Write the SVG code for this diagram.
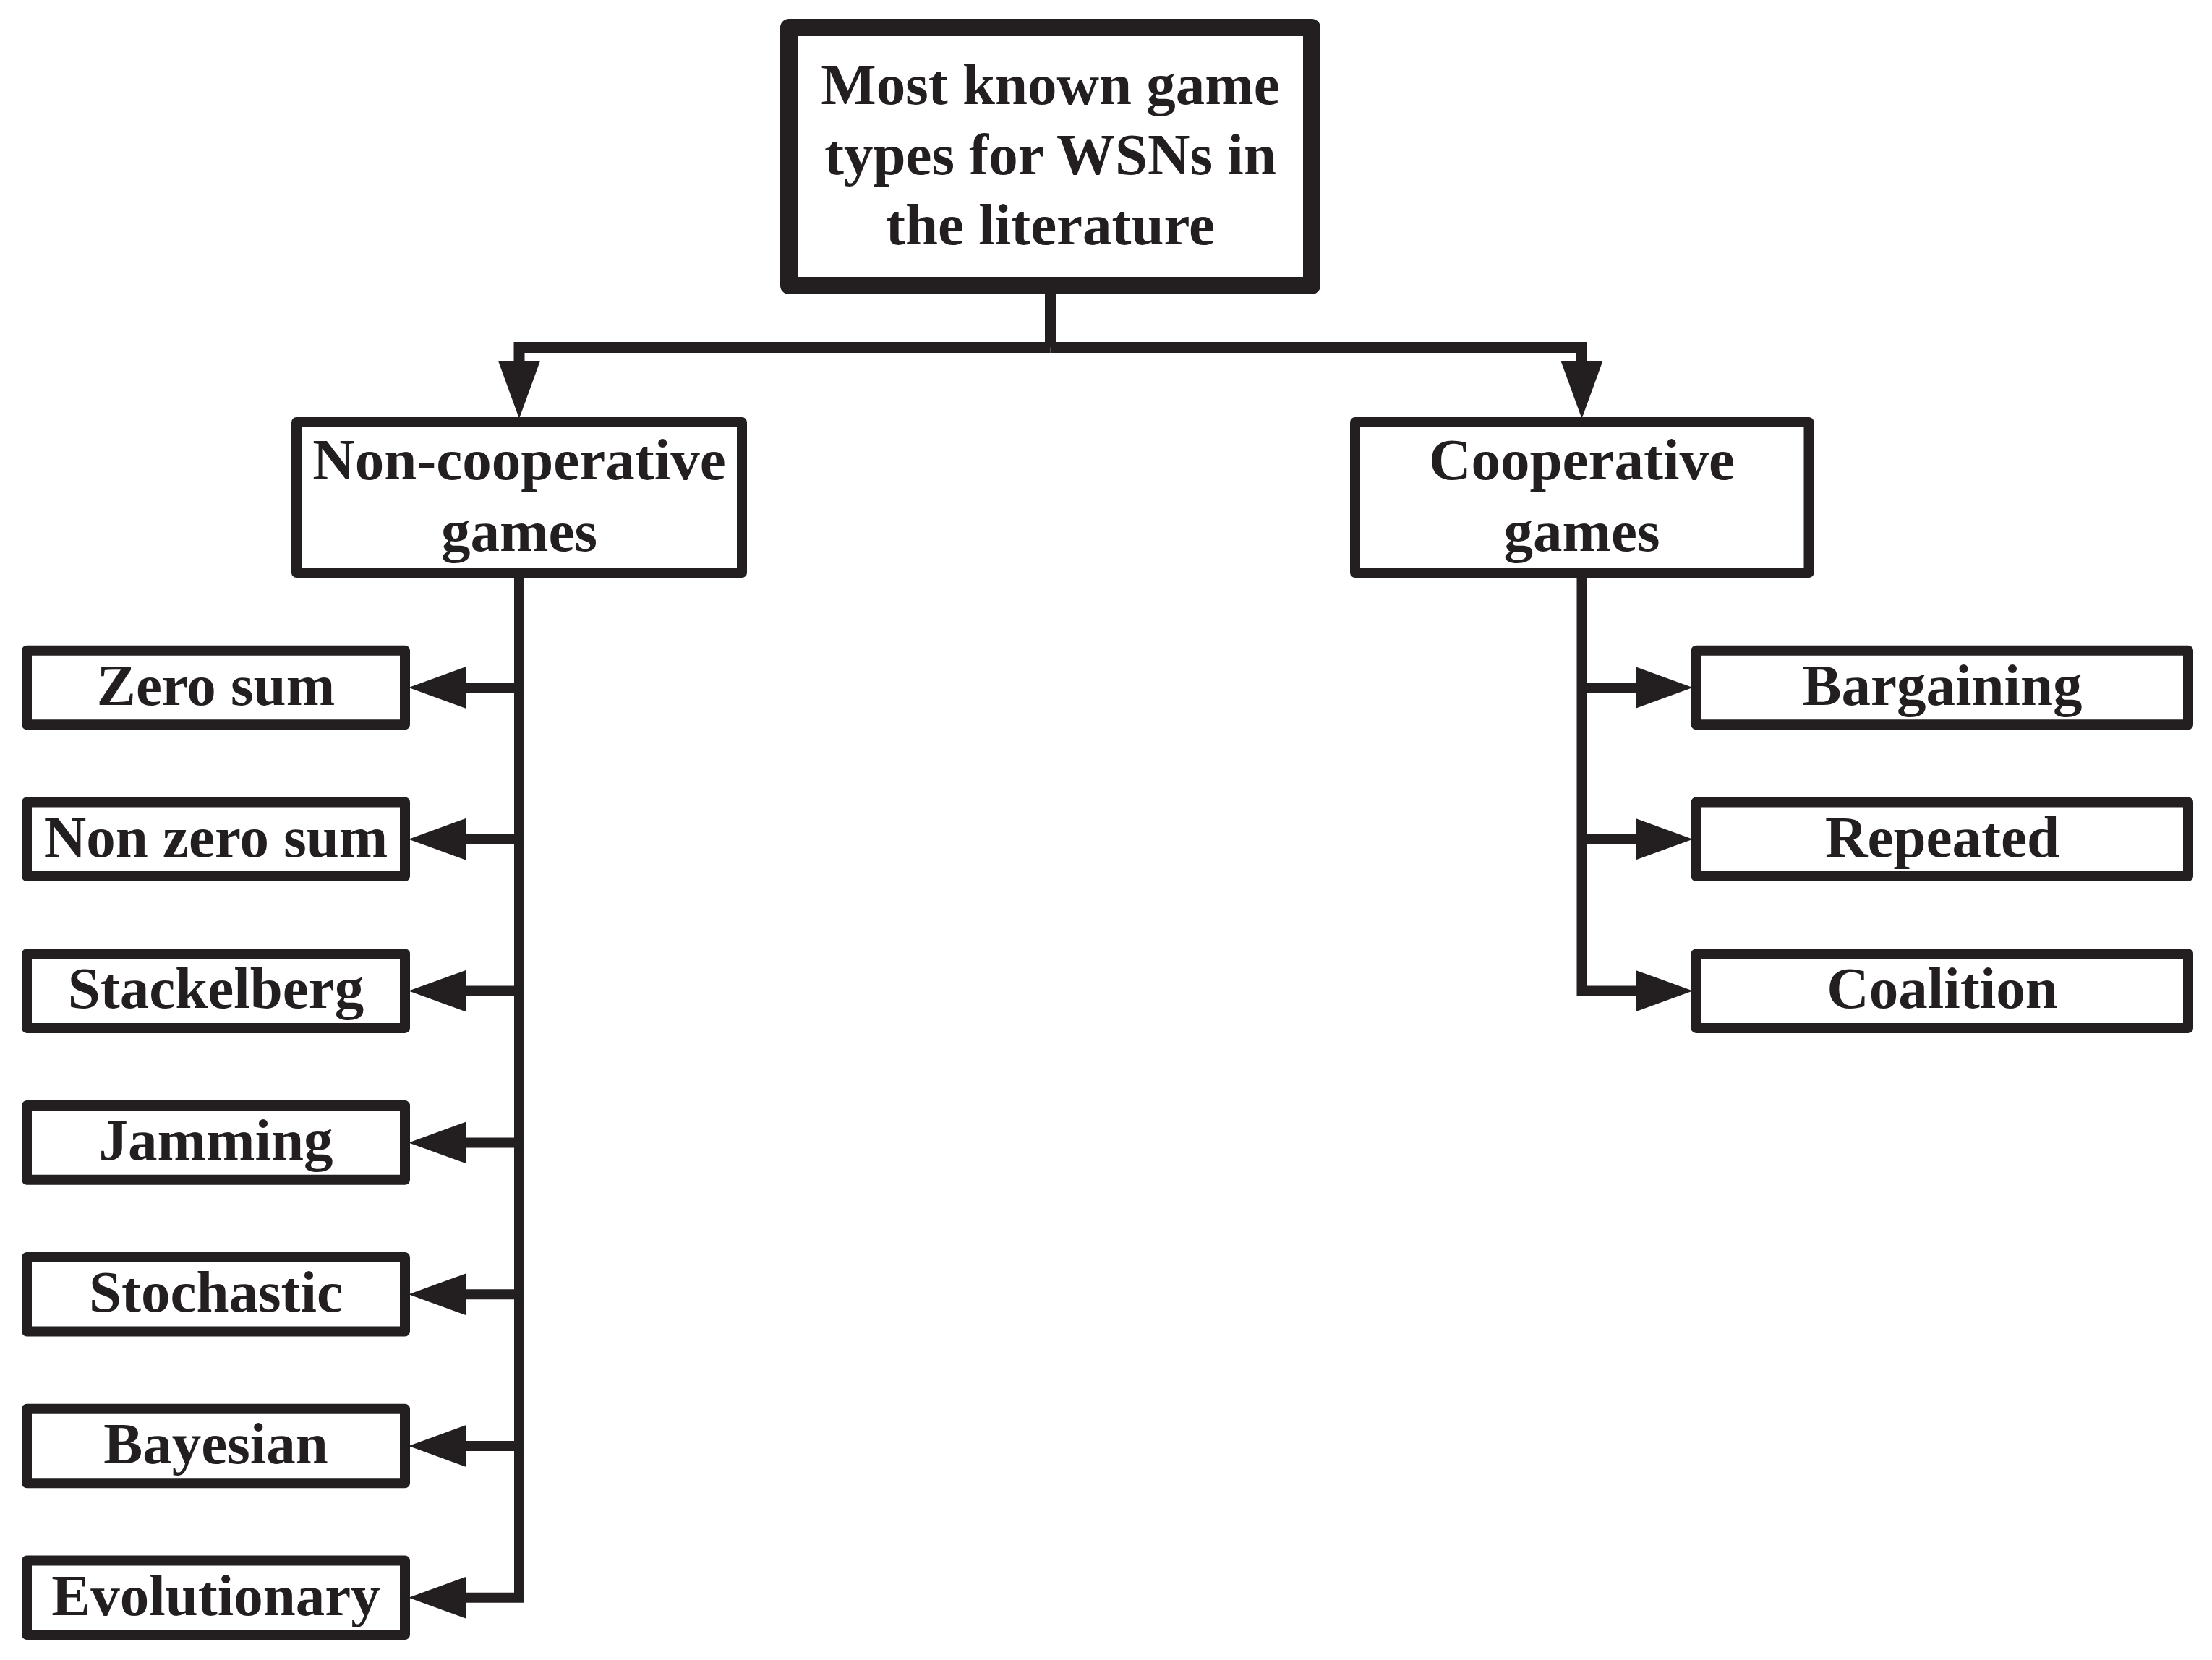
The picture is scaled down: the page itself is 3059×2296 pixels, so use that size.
<svg xmlns="http://www.w3.org/2000/svg" width="3059" height="2296" viewBox="0 0 3059 2296">
<style>
.box{fill:#fff;stroke:#231f20;stroke-width:14;stroke-linejoin:round}
.top{stroke-width:24}
.lbl{font-family:"Liberation Serif","Times New Roman",serif;font-weight:bold;font-size:81px;fill:#231f20;text-anchor:middle}
.con{fill:none;stroke:#231f20;stroke-width:14;stroke-linejoin:miter}
</style>
<defs>
<marker id="arr" markerUnits="userSpaceOnUse" markerWidth="80" markerHeight="60" viewBox="0 -29 78 58" refX="0" refY="0" orient="auto" overflow="visible">
<path d="M0,-28 L77,0 L0,28 Z" fill="#231f20"/>
</marker>
</defs>
<rect width="3059" height="2296" fill="#fff"/>
<g id="connectors">
<path class="con" d="M1452.5,407 V480.5" style="stroke-width:15"/>
<path class="con" d="M1452.5,480.5 H718 V500" style="stroke-width:15" marker-end="url(#arr)"/>
<path class="con" d="M1452.5,480.5 H2187.5 V500" style="stroke-width:15" marker-end="url(#arr)"/>
<path class="con" d="M718,799 V2209.8 H644" marker-end="url(#arr)"/>
<path class="con" d="M718,951 H644" marker-end="url(#arr)"/>
<path class="con" d="M718,1160.8 H644" marker-end="url(#arr)"/>
<path class="con" d="M718,1370.6 H644" marker-end="url(#arr)"/>
<path class="con" d="M718,1580.4 H644" marker-end="url(#arr)"/>
<path class="con" d="M718,1790.2 H644" marker-end="url(#arr)"/>
<path class="con" d="M718,2000 H644" marker-end="url(#arr)"/>
<path class="con" d="M2187.5,799 V1370.6 H2262" marker-end="url(#arr)"/>
<path class="con" d="M2187.5,951 H2262" marker-end="url(#arr)"/>
<path class="con" d="M2187.5,1160.8 H2262" marker-end="url(#arr)"/>
</g>
<g id="root">
<rect class="box top" x="1091" y="38" width="723" height="357"/>
<text class="lbl" x="1452.5" y="144">Most known game</text>
<text class="lbl" x="1452.5" y="241">types for WSNs in</text>
<text class="lbl" x="1452.5" y="338">the literature</text>
</g>
<g id="noncoop">
<rect class="box" x="410" y="584" width="616" height="208"/>
<text class="lbl" x="718" y="663">Non-cooperative</text>
<text class="lbl" x="718" y="762">games</text>
</g>
<g id="coop">
<rect class="box" x="1874" y="584" width="627.5" height="208"/>
<text class="lbl" x="2187.5" y="663">Cooperative</text>
<text class="lbl" x="2187.5" y="762">games</text>
</g>
<g id="zerosum"><rect class="box" x="37" y="899.7" width="523" height="102.6"/><text class="lbl" x="298.5" y="974.7">Zero sum</text></g>
<g id="nonzerosum"><rect class="box" x="37" y="1109.5" width="523" height="102.6"/><text class="lbl" x="298.5" y="1184.5">Non zero sum</text></g>
<g id="stackelberg"><rect class="box" x="37" y="1319.3" width="523" height="102.6"/><text class="lbl" x="298.5" y="1394.3">Stackelberg</text></g>
<g id="jamming"><rect class="box" x="37" y="1529.1" width="523" height="102.6"/><text class="lbl" x="298.5" y="1604.1">Jamming</text></g>
<g id="stochastic"><rect class="box" x="37" y="1738.9" width="523" height="102.6"/><text class="lbl" x="298.5" y="1813.9">Stochastic</text></g>
<g id="bayesian"><rect class="box" x="37" y="1948.7" width="523" height="102.6"/><text class="lbl" x="298.5" y="2023.7">Bayesian</text></g>
<g id="evolutionary"><rect class="box" x="37" y="2158.5" width="523" height="102.6"/><text class="lbl" x="298.5" y="2233.5">Evolutionary</text></g>
<g id="bargaining"><rect class="box" x="2345.6" y="899.7" width="680.4" height="102.6"/><text class="lbl" x="2686" y="974.7">Bargaining</text></g>
<g id="repeated"><rect class="box" x="2345.6" y="1109.5" width="680.4" height="102.6"/><text class="lbl" x="2686" y="1184.5">Repeated</text></g>
<g id="coalition"><rect class="box" x="2345.6" y="1319.3" width="680.4" height="102.6"/><text class="lbl" x="2686" y="1394.3">Coalition</text></g>
</svg>
